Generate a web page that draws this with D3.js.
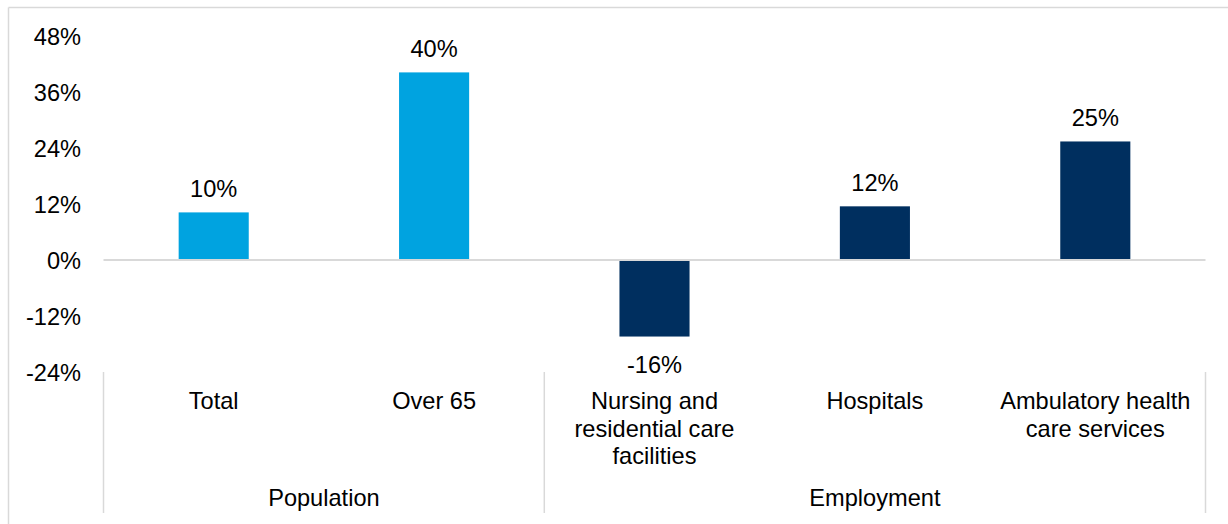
<!DOCTYPE html>
<html>
<head>
<meta charset="utf-8">
<script src="https://cdn.jsdelivr.net/npm/d3@7/dist/d3.min.js"></script>
<style>
  html, body { margin: 0; padding: 0; background: #fff; }
  text { font-family: "Liberation Sans", Arial, sans-serif; fill: #000; }
</style>
</head>
<body>
<svg id="chart" width="1228" height="524"></svg>
<script>
// ---- data ----
const categories = [
  ["Total"],
  ["Over 65"],
  ["Nursing and", "residential care", "facilities"],
  ["Hospitals"],
  ["Ambulatory health", "care services"]
];
const values = [10.2, 40.2, -16.4, 11.5, 25.4];
const valueLabels = ["10%", "40%", "-16%", "12%", "25%"];
const groups = ["Population", "Population", "Employment", "Employment", "Employment"];
const groupNames = ["Population", "Employment"];
const yTicks = [-24, -12, 0, 12, 24, 36, 48];
const colors = { Population: "#00A3E0", Employment: "#002F5F" };

// ---- layout ----
const svg = d3.select("#chart");
const fs = 23.6;
const left = 103.5, right = 1205.5;
const ids = d3.range(categories.length);

const x = d3.scaleBand().domain(ids).range([left, right])
  .paddingInner(0.682).paddingOuter(0.341);
const y = d3.scaleLinear().domain([-24, 48]).range([372, 36]);

// outer border (top & left)
svg.append("line").attr("x1", 8.5).attr("x2", 1228).attr("y1", 7.5).attr("y2", 7.5)
  .attr("stroke", "#d9d9d9").attr("stroke-width", 1.5);
svg.append("line").attr("x1", 8.5).attr("x2", 8.5).attr("y1", 7.5).attr("y2", 524)
  .attr("stroke", "#d9d9d9").attr("stroke-width", 1.5);

// y axis labels
const yAxis = d3.axisLeft(y).tickValues(yTicks).tickFormat(d => d + "%").tickSize(0).tickPadding(0);
const yg = svg.append("g").attr("transform", "translate(81,0)").call(yAxis);
yg.select(".domain").remove();
yg.selectAll("text").attr("font-size", fs).attr("font-family", "Liberation Sans, Arial, sans-serif")
  .attr("fill", "#000").attr("dy", "0.35em");

// bars
svg.append("g").selectAll("rect").data(ids).join("rect")
  .attr("x", i => x(i))
  .attr("width", x.bandwidth())
  .attr("y", i => y(Math.max(0, values[i])))
  .attr("height", i => Math.abs(y(values[i]) - y(0)))
  .attr("fill", i => colors[groups[i]]);

// zero line
svg.append("line").attr("x1", left).attr("x2", right).attr("y1", y(0)).attr("y2", y(0))
  .attr("stroke", "#d9d9d9").attr("stroke-width", 2);

// value labels
svg.append("g").selectAll("text").data(ids).join("text")
  .attr("x", i => x(i) + x.bandwidth() / 2)
  .attr("y", i => values[i] >= 0 ? y(values[i]) - 15 : y(values[i]) + 36)
  .attr("text-anchor", "middle").attr("font-size", fs)
  .text(i => valueLabels[i]);

// category labels
const catG = svg.append("g");
ids.forEach(i => {
  const t = catG.append("text")
    .attr("x", x(i) + x.bandwidth() / 2).attr("y", 409)
    .attr("text-anchor", "middle").attr("font-size", fs);
  categories[i].forEach((line, k) => {
    t.append("tspan").attr("x", x(i) + x.bandwidth() / 2)
      .attr("y", 409 + k * 27.5).text(line);
  });
});

// group separators and group labels
const step = x.step();
const bounds = [];
groupNames.forEach(g => {
  const idx = ids.filter(i => groups[i] === g);
  bounds.push([left + d3.min(idx) * step, left + (d3.max(idx) + 1) * step, g]);
});
const sepXs = [left, ...bounds.map(b => b[1])];
svg.append("g").selectAll("line").data(sepXs).join("line")
  .attr("x1", d => d).attr("x2", d => d)
  .attr("y1", y(-24)).attr("y2", 513)
  .attr("stroke", "#d9d9d9").attr("stroke-width", 1.5);

svg.append("g").selectAll("text").data(bounds).join("text")
  .attr("x", d => (d[0] + d[1]) / 2).attr("y", 506)
  .attr("text-anchor", "middle").attr("font-size", fs)
  .text(d => d[2]);
</script>
</body>
</html>
